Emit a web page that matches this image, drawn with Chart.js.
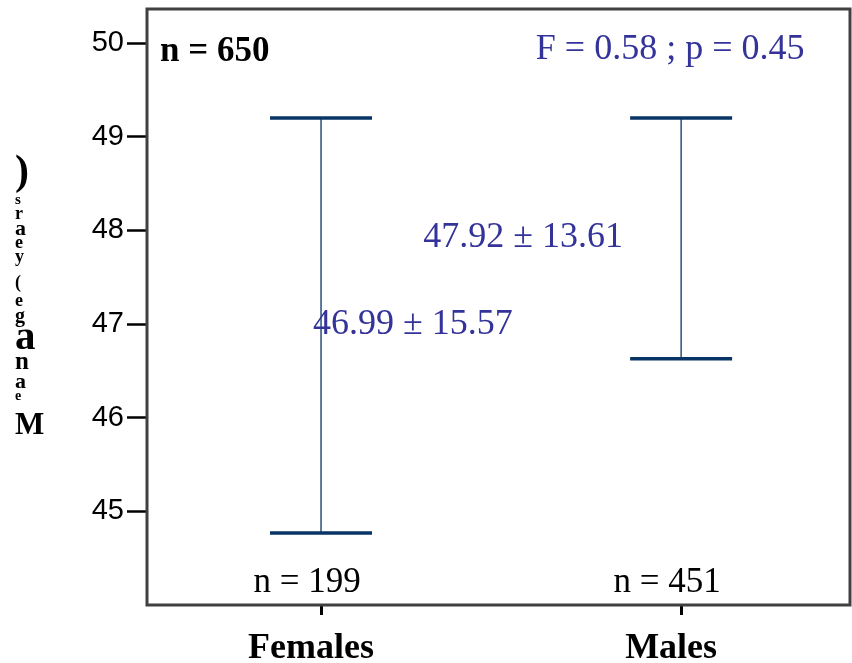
<!DOCTYPE html>
<html>
<head>
<meta charset="utf-8">
<script src="https://cdn.jsdelivr.net/npm/chart.js@4/dist/chart.umd.min.js"></script>
<style>
  html, body { margin: 0; padding: 0; background: #fff; }
  #wrap { width: 852px; height: 663px; }
</style>
</head>
<body>
<div id="wrap"><canvas id="ageChart" width="852" height="663"></canvas></div>
<script>
// data
const groups = ["Females", "Males"];
const means = [46.99, 47.92];
const sds = [15.57, 13.61];
const lower = [44.77, 46.63];
const upper = [49.20, 49.20];
const counts = [199, 451];
const totalN = 650;
const statF = "0.58";
const statP = "0.45";
const yTicks = [45, 46, 47, 48, 49, 50];
const yTitle = "Mean age (years)";

const serif = "'Liberation Serif', 'Times New Roman', serif";
const sans = "'Liberation Sans', Arial, sans-serif";
const barColor = "#083566";
const statColor = "#333399";

// garbled stacked y title, bottom to top: [size, baseline y]
const titleGlyphs = [
  [31, 434], [14, 400], [22, 388], [25, 369], [41, 349], [20, 322], [18, 306],
  [18, 288], [18, 262], [18, 248], [22, 235], [18, 219], [15, 204], [42, 184]
];

const datasets = groups.map((g, i) => ({
  label: g,
  data: [{ x: i + 1, y: lower[i] }, { x: i + 1, y: upper[i] }],
  borderColor: barColor,
  borderWidth: 1.3,
  pointStyle: "line",
  pointRadius: 51,
  pointBorderWidth: 3.5,
  pointBorderColor: barColor,
  showLine: true,
  fill: false
}));

const noPad = s => { s.paddingLeft = s.paddingRight = s.paddingTop = s.paddingBottom = 0; };

const decorPlugin = {
  id: "decor",
  afterDraw(chart) {
    const c = chart.ctx;
    const a = chart.chartArea;
    const xs = chart.scales.x, ys = chart.scales.y;
    c.save();
    // frame
    c.strokeStyle = "#404040";
    c.lineWidth = 3;
    c.strokeRect(a.left, a.top, a.right - a.left, a.bottom - a.top);

    // y title
    const chars = yTitle.replace(/ /g, "").split("");
    c.fillStyle = "#000";
    c.textAlign = "left";
    c.textBaseline = "alphabetic";
    chars.forEach((ch, k) => {
      const g = titleGlyphs[k];
      c.font = "bold " + g[0] + "px " + serif;
      c.fillText(ch, 15, g[1]);
    });

    // total n
    c.font = "bold 35px " + serif;
    c.textBaseline = "middle";
    c.fillText("n = " + totalN, a.left + 13, a.top + 43);

    // group counts
    c.font = "35px " + serif;
    c.textAlign = "center";
    counts.forEach((n, i) => {
      c.fillText("n = " + n, xs.getPixelForValue(i + 1) - 14, a.bottom - 22);
    });

    // stats
    c.fillStyle = statColor;
    c.font = "36px " + serif;
    c.fillText("F = " + statF + " ; p = " + statP, xs.getPixelForValue(2) - 11, a.top + 41);
    c.textAlign = "left";
    c.fillText(means[0].toFixed(2) + " \u00b1 " + sds[0].toFixed(2), xs.getPixelForValue(1) - 8, ys.getPixelForValue(means[0]));
    c.textAlign = "right";
    c.fillText(means[1].toFixed(2) + " \u00b1 " + sds[1].toFixed(2), xs.getPixelForValue(2) - 58, ys.getPixelForValue(means[1]));
    c.restore();
  }
};

new Chart(document.getElementById("ageChart"), {
  type: "line",
  data: { datasets },
  options: {
    responsive: false,
    animation: false,
    events: [],
    layout: { autoPadding: false, padding: { top: 9, right: 2, left: 0, bottom: 0 } },
    plugins: { legend: { display: false }, tooltip: { enabled: false } },
    scales: {
      x: {
        type: "linear",
        min: 0.5167,
        max: 2.469,
        afterBuildTicks: s => { s.ticks = groups.map((g, i) => ({ value: i + 1 })); },
        afterFit: s => { s.height = 58; noPad(s); },
        border: { display: false },
        grid: { drawOnChartArea: false, tickLength: 10, tickWidth: 3, tickColor: "#000" },
        ticks: {
          callback: v => groups[v - 1],
          color: "#000",
          padding: 12,
          labelOffset: -10,
          maxRotation: 0,
          font: { family: serif, size: 36, weight: "bold" }
        }
      },
      y: {
        min: 44.0,
        max: 50.363,
        afterBuildTicks: s => { s.ticks = yTicks.map(v => ({ value: v })); },
        afterFit: s => { s.width = 147; noPad(s); },
        border: { display: false },
        grid: { drawOnChartArea: false, tickLength: 20, tickWidth: 2.5, tickColor: "#000" },
        ticks: {
          color: "#000",
          padding: 3,
          font: { family: sans, size: 29 }
        }
      }
    }
  },
  plugins: [decorPlugin]
});
</script>
</body>
</html>
